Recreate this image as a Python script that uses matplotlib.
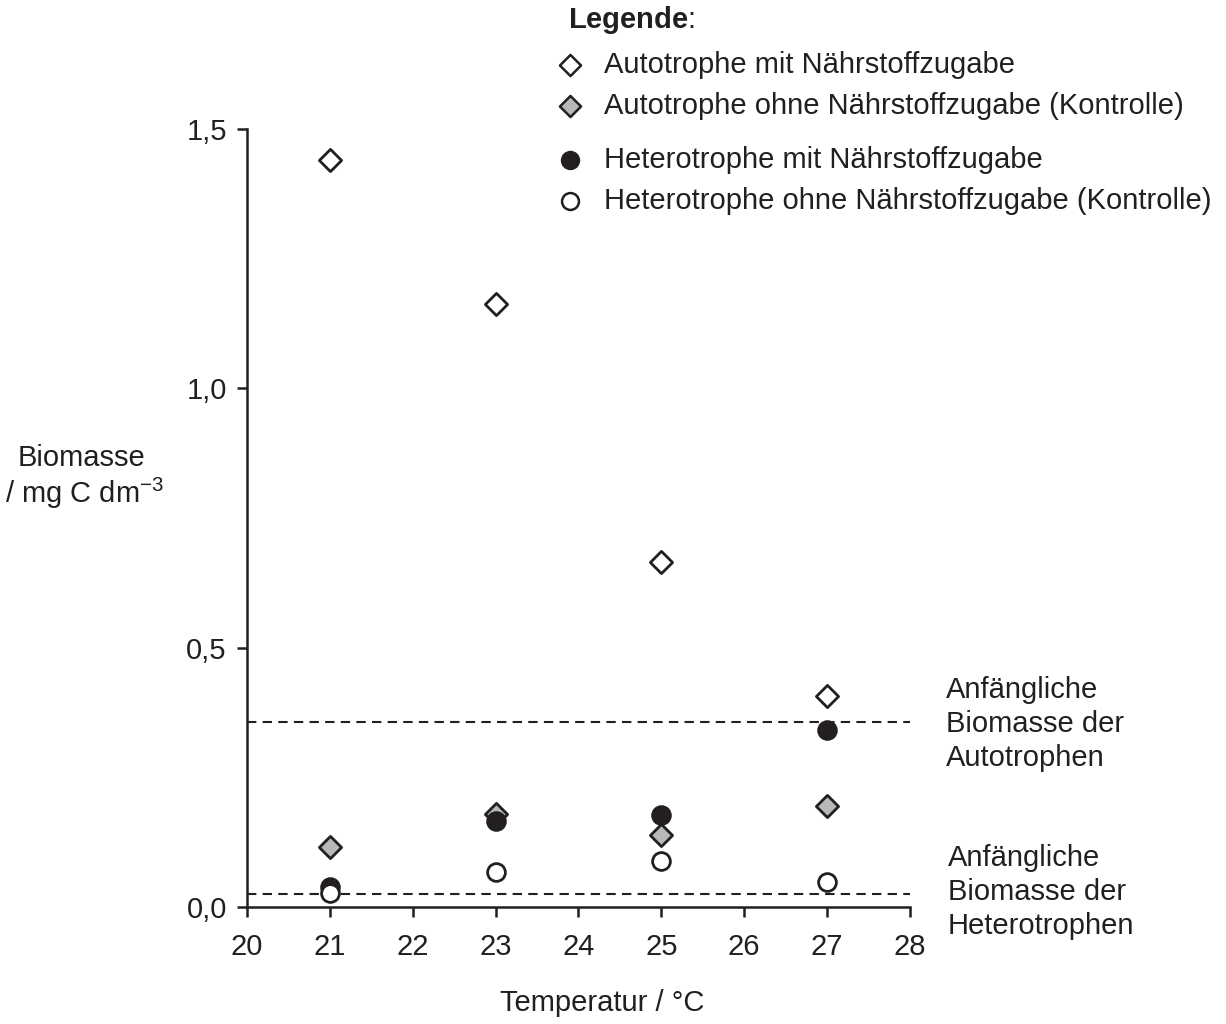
import numpy as np
import matplotlib.pyplot as plt
from matplotlib.path import Path
from matplotlib.lines import Line2D

plt.rcParams['font.family'] = ['Liberation Sans', 'DejaVu Sans']
plt.rcParams['mathtext.fontset'] = 'custom'
plt.rcParams['mathtext.rm'] = 'Liberation Sans'
plt.rcParams['mathtext.bf'] = 'Liberation Sans:bold'

# data
temps = [21, 23, 25, 27]
auto_mit = [1.44, 1.163, 0.665, 0.407]
auto_ohne = [0.116, 0.179, 0.139, 0.195]
hetero_mit = [0.039, 0.166, 0.177, 0.341]
hetero_ohne = [0.027, 0.067, 0.089, 0.048]
start_auto = 0.357
start_hetero = 0.025

xticks = [20, 21, 22, 23, 24, 25, 26, 27, 28]
yticks = [0.0, 0.5, 1.0, 1.5]
ytick_labels = ['0,0', '0,5', '1,0', '1,5']

legend_labels = ['Autotrophe mit Nährstoffzugabe',
                 'Autotrophe ohne Nährstoffzugabe (Kontrolle)',
                 'Heterotrophe mit Nährstoffzugabe',
                 'Heterotrophe ohne Nährstoffzugabe (Kontrolle)']

ink = '#231f20'
grey = '#b8b8b8'
fs = 21

diamond = Path([[0, 1], [1, 0], [0, -1], [-1, 0], [0, 1]], closed=True)

fig = plt.figure(figsize=(12.26, 10.24), dpi=100)
ax = fig.add_axes([247 / 1226, 1 - 907 / 1024, (910 - 247) / 1226, (907 - 129) / 1024])

styles = [
    (auto_mit, diamond, 'white', 16),
    (auto_ohne, diamond, grey, 16),
    (hetero_mit, 'o', ink, 12.8),
    (hetero_ohne, 'o', 'white', 12.8),
]

ax.hlines([start_auto, start_hetero], 20, 28, colors=ink, linestyles=(0, (4.5, 3)), lw=1.5, zorder=1)

for vals, m, fc, ms in styles:
    ax.plot(temps, vals, ls='none', marker=m, ms=ms, mfc=fc, mec=ink, mew=2, zorder=3, clip_on=False)

ax.set_xlim(20, 28)
ax.set_ylim(0, 1.5)
ax.set_xticks(xticks)
ax.set_yticks(yticks)
ax.set_yticklabels(ytick_labels)
ax.spines['top'].set_visible(False)
ax.spines['right'].set_visible(False)
for s in ['left', 'bottom']:
    ax.spines[s].set_linewidth(1.8)
    ax.spines[s].set_color(ink)
ax.tick_params(axis='both', direction='out', length=7.5, width=1.8, color=ink,
               labelsize=fs, labelcolor=ink)
ax.tick_params(axis='x', pad=11)
ax.tick_params(axis='y', pad=7)

# axis titles
fig.text(81 / 1226, 1 - 458 / 1024, 'Biomasse', ha='center', va='center', fontsize=fs, color=ink)
fig.text(85 / 1226, 1 - 493 / 1024, r'/ mg C dm$^{\mathregular{-3}}$', ha='center', va='center',
         fontsize=fs, color=ink)
fig.text(602 / 1226, 1 - 1003 / 1024, 'Temperatur / °C', ha='center', va='center', fontsize=fs, color=ink)

# notes for the dashed lines
fig.text(946 / 1226, 1 - 724 / 1024, 'Anfängliche\nBiomasse der\nAutotrophen', ha='left', va='center',
         fontsize=fs, color=ink, linespacing=1.26)
fig.text(948 / 1226, 1 - 892 / 1024, 'Anfängliche\nBiomasse der\nHeterotrophen', ha='left', va='center',
         fontsize=fs, color=ink, linespacing=1.26)

# hand-made legend
fig.text(568 / 1226, 1 - 20 / 1024, r'$\mathbf{Legende}$:', ha='left', va='center', fontsize=fs, color=ink)
leg_y = [65, 106, 160, 201]
for (vals, m, fc, ms), lab, y in zip(styles, legend_labels, leg_y):
    fig.add_artist(Line2D([570 / 1226], [1 - y / 1024], ls='none', marker=m, ms=ms * 0.95,
                          mfc=fc, mec=ink, mew=1.8, transform=fig.transFigure))
    fig.text(604 / 1226, 1 - y / 1024, lab, ha='left', va='center', fontsize=fs, color=ink)

fig.savefig('out.png', dpi=100)
